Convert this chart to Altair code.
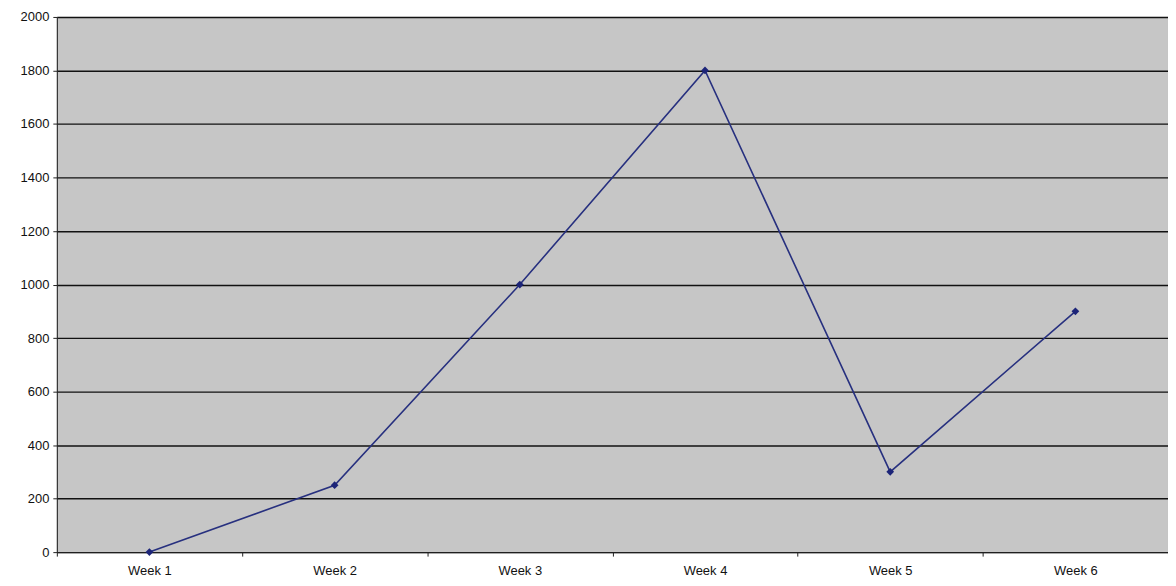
import altair as alt
import pandas as pd

weeks = ["Week 1", "Week 2", "Week 3", "Week 4", "Week 5", "Week 6"]
values = [0, 250, 1000, 1800, 300, 900]
y_ticks = [0, 200, 400, 600, 800, 1000, 1200, 1400, 1600, 1800, 2000]

df = pd.DataFrame({"week": weeks, "value": values})

x = alt.X("week:N", sort=weeks, title=None,
          scale=alt.Scale(paddingInner=0, paddingOuter=0),
          axis=alt.Axis(labelAngle=0, tickBand="extent", domainColor="#222", tickColor="#222",
                        labelFont="Liberation Sans", labelFontSize=13, labelColor="#111",
                        labelPadding=8, tickSize=4, grid=False))
y = alt.Y("value:Q", title=None,
          scale=alt.Scale(domain=[0, 2000], nice=False),
          axis=alt.Axis(values=y_ticks, format="d", domainColor="#222", tickColor="#222", tickSize=4,
                        labelFont="Liberation Sans", labelFontSize=13, labelColor="#111",
                        labelPadding=4, gridColor="#111", gridWidth=1.4, gridOpacity=1))

line = alt.Chart(df).mark_line(color="#27307f", strokeWidth=1.6).encode(x=x, y=y)
pts = alt.Chart(df).mark_point(shape="diamond", filled=True, color="#1c2478", size=60, opacity=1).encode(x=x, y=y)

chart = (line + pts).properties(
    width=1115, height=537,
    autosize=alt.AutoSizeParams(type="none"),
    padding={"left": 49, "top": 8, "right": 0, "bottom": 30},
    background="white",
).configure_view(fill="#c6c6c6", stroke="#9a9a9a", strokeWidth=1)

chart.save("out.html", embed_options={"renderer": "svg", "actions": False})
